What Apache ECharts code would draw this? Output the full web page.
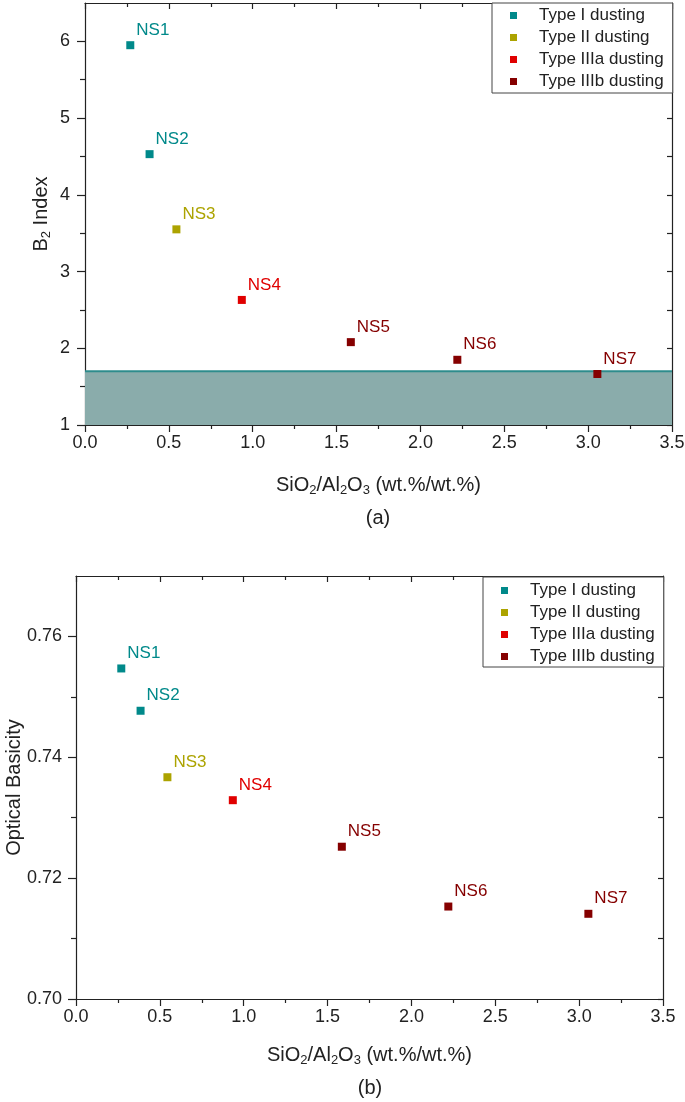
<!DOCTYPE html>
<html>
<head>
<meta charset="utf-8">
<script src="https://cdn.jsdelivr.net/npm/echarts@6/dist/echarts.min.js"></script>
<style>html,body{margin:0;padding:0;background:#fff}#c{width:685px;height:1102px}</style>
</head>
<body>
<div id="c"></div>
<script>
// ---- data ----
const sampleNames = ['NS1', 'NS2', 'NS3', 'NS4', 'NS5', 'NS6', 'NS7'];
const sampleTypes = ['Type I dusting', 'Type I dusting', 'Type II dusting', 'Type IIIa dusting', 'Type IIIb dusting', 'Type IIIb dusting', 'Type IIIb dusting'];
const sio2Al2o3 = [0.27, 0.385, 0.545, 0.935, 1.585, 2.22, 3.055];
const b2Index = [5.95, 4.53, 3.55, 2.63, 2.08, 1.85, 1.665];
const opticalBasicity = [0.7547, 0.7477, 0.7367, 0.7329, 0.7252, 0.7153, 0.7141];
const typeNames = ['Type I dusting', 'Type II dusting', 'Type IIIa dusting', 'Type IIIb dusting'];
const typeColors = ['#00898A', '#ACA300', '#E00000', '#850000'];
const thresholdX = [0, 3.5];
const thresholdY = [1.7, 1.7];
const b2Ticks = [1, 2, 3, 4, 5, 6];
const b2Minor = [1.5, 2.5, 3.5, 4.5, 5.5];
const obTicks = [0.70, 0.72, 0.74, 0.76];
const obMinor = [0.71, 0.73, 0.75];

const FONT = "'Liberation Sans', Arial, sans-serif";
const TXT = '#222';
const LINE = '#222';

function nameStyle() {
  return { fontFamily: FONT, color: TXT, rich: {
    n: { fontSize: 20, lineHeight: 24, fontFamily: FONT, color: TXT },
    s: { fontSize: 13, verticalAlign: 'bottom', fontFamily: FONT, color: TXT } } };
}

function xAxes(grid, gap) {
  return [
    { gridIndex: grid, type: 'value', position: 'bottom', min: 0, max: 3.5, interval: 0.5,
      axisLine: { show: true, onZero: false, lineStyle: { color: LINE, width: 1.2 } },
      axisTick: { show: true, inside: false, length: 7, lineStyle: { color: LINE, width: 1.2 } },
      minorTick: { show: true, splitNumber: 2, length: 4, lineStyle: { color: LINE, width: 1.2 } },
      axisLabel: { show: true, margin: 9, fontSize: 18, color: TXT, fontFamily: FONT, formatter: v => v.toFixed(1) },
      splitLine: { show: false },
      name: '{n|SiO}{s|2}{n|/Al}{s|2}{n|O}{s|3}{n| (wt.%/wt.%)}', nameLocation: 'middle', nameGap: gap,
      nameMoveOverlap: false,
      nameTextStyle: nameStyle()
    },
    { gridIndex: grid, type: 'value', position: 'top', min: 0, max: 3.5, interval: 0.5,
      axisLine: { show: true, onZero: false, lineStyle: { color: LINE, width: 1.2 } },
      axisTick: { show: true, inside: true, length: 6, lineStyle: { color: LINE, width: 1.2 } },
      minorTick: { show: true, splitNumber: 2, length: 4, lineStyle: { color: LINE, width: 1.2 } },
      axisLabel: { show: false }, splitLine: { show: false }
    }
  ];
}

function yAxes(grid, min, max, ticks, minors, nameRich, nameGap, fmt, labelMargin) {
  return [
    { gridIndex: grid, type: 'value', position: 'left', min: min, max: max,
      axisLine: { show: true, onZero: false, lineStyle: { color: LINE, width: 1.2 } },
      axisTick: { show: true, inside: false, length: 8, customValues: ticks, lineStyle: { color: LINE, width: 1.2 } },
      axisLabel: { show: true, customValues: ticks, margin: labelMargin, fontSize: 18, color: TXT, fontFamily: FONT, formatter: fmt },
      splitLine: { show: false },
      name: nameRich, nameLocation: 'middle', nameGap: nameGap, nameMoveOverlap: false,
      nameTextStyle: nameStyle()
    },
    { gridIndex: grid, type: 'value', position: 'left', min: min, max: max,
      axisLine: { show: false },
      axisTick: { show: true, inside: false, length: 5, customValues: minors, lineStyle: { color: LINE, width: 1.2 } },
      axisLabel: { show: false }, splitLine: { show: false }
    },
    { gridIndex: grid, type: 'value', position: 'right', min: min, max: max,
      axisLine: { show: true, onZero: false, lineStyle: { color: LINE, width: 1.2 } },
      axisTick: { show: true, inside: true, length: 5, customValues: ticks.concat(minors), lineStyle: { color: LINE, width: 1.2 } },
      axisLabel: { show: false }, splitLine: { show: false }
    }
  ];
}

function scatterSeries(xIdx, yIdx, yValues) {
  return typeNames.map((t, ti) => ({
    type: 'scatter', name: t, xAxisIndex: xIdx, yAxisIndex: yIdx,
    symbol: 'rect', symbolSize: 8, z: 5,
    itemStyle: { color: typeColors[ti], opacity: 1 },
    label: { show: true, position: 'right', distance: 2, offset: [0, -15], formatter: '{b}',
             fontSize: 17, fontFamily: FONT, color: typeColors[ti] },
    data: sampleNames.map((n, i) => sampleTypes[i] === t ? { name: n, value: [sio2Al2o3[i], yValues[i]] } : null).filter(d => d)
  }));
}

function legend(left, top, padding) {
  return { data: typeNames, orient: 'vertical', left: left, top: top, icon: 'rect', itemWidth: 7, itemHeight: 7,
    itemGap: 5, padding: padding, borderColor: '#444', borderWidth: 1, selectedMode: false, backgroundColor: '#fff',
    textStyle: { fontSize: 17, lineHeight: 17, color: TXT, fontFamily: FONT, padding: [0, 0, 0, 17] } };
}

const option = {
  backgroundColor: '#fff',
  animation: false,
  grid: [
    { left: 85, top: 3, width: 587, height: 422, outerBoundsMode: 'none', containLabel: false },
    { left: 76, top: 576, width: 587, height: 423, outerBoundsMode: 'none', containLabel: false }
  ],
  legend: [
    legend(492, 3, [4, 9, 3, 18]),
    legend(483, 577, [5, 9, 2, 18])
  ],
  xAxis: xAxes(0, 48).concat(xAxes(1, 44)),
  yAxis: yAxes(0, 1, 6.5, b2Ticks, b2Minor, '{n|B}{s|2}{n| Index}', 32, v => String(v), 15)
    .concat(yAxes(1, 0.70, 0.77, obTicks, obMinor, '{n|Optical Basicity}', 50, v => v.toFixed(2), 14)),
  series: [
    { type: 'line', name: 'threshold', xAxisIndex: 0, yAxisIndex: 0, symbol: 'none', z: 1,
      lineStyle: { color: '#2E8C8C', width: 2 },
      areaStyle: { color: '#8AACAB', opacity: 1, origin: 'start' },
      data: thresholdX.map((x, i) => [x, thresholdY[i]]) }
  ].concat(scatterSeries(0, 0, b2Index)).concat(scatterSeries(2, 3, opticalBasicity)),
  graphic: [
    { type: 'text', x: 378, y: 518, style: { text: '(a)', fontSize: 20, fontFamily: FONT, fill: TXT, textAlign: 'center', textVerticalAlign: 'middle' } },
    { type: 'text', x: 370, y: 1088, style: { text: '(b)', fontSize: 20, fontFamily: FONT, fill: TXT, textAlign: 'center', textVerticalAlign: 'middle' } }
  ]
};
const chart = echarts.init(document.getElementById('c'), null, { renderer: 'canvas' });
chart.setOption(option);
</script>
</body>
</html>
